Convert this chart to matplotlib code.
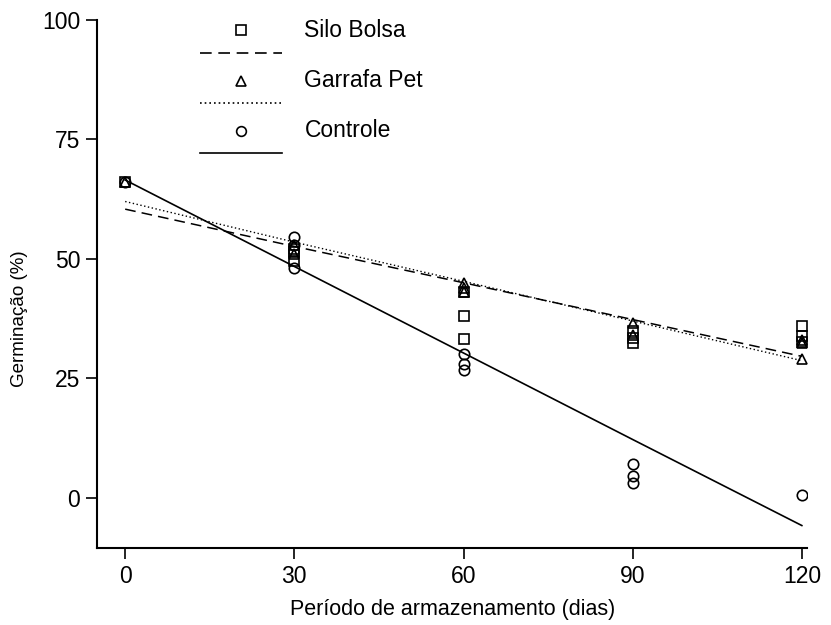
import numpy as np
import matplotlib.pyplot as plt
from matplotlib.lines import Line2D

# Storage period (days)
dias = [0, 30, 60, 90, 120]

silo_x = [0, 30, 30, 30, 60, 60, 60, 90, 90, 90, 120, 120, 120]
silo_y = [66, 52, 51.5, 49.5, 43, 38, 33.3, 32.3, 33.5, 35, 36, 33.8, 32.5]

pet_x = [0, 30, 30, 60, 60, 60, 90, 90, 120, 120, 120]
pet_y = [66, 53, 51, 45, 44, 43, 36.5, 34, 33, 32.3, 29]

ctrl_x = [0, 30, 30, 30, 60, 60, 60, 90, 90, 90, 120]
ctrl_y = [66, 54.5, 53, 48, 30, 28, 26.8, 7, 4.6, 3, 0.6]

# Fitted regression lines, read at each storage period
silo_fit = [60.4, 52.6, 45.0, 37.3, 29.6]
pet_fit = [62.0, 53.5, 45.3, 37.0, 28.7]
ctrl_fit = [66.5, 48.4, 30.3, 12.2, -5.8]

plt.rcParams['font.family'] = ['Liberation Sans', 'DejaVu Sans']

fig = plt.figure(figsize=(8.31, 6.25), dpi=100)
ax = fig.add_axes([0.1167, 0.1232, 0.855, 0.845])

mk = dict(linestyle='none', markerfacecolor='none', markeredgecolor='black',
          markersize=7.5, markeredgewidth=1.2)
ax.plot(silo_x, silo_y, marker='s', **mk)
ax.plot(pet_x, pet_y, marker='^', **mk)
ax.plot(ctrl_x, ctrl_y, marker='o', **mk)

ax.plot(dias, silo_fit, color='black', lw=1.1, dashes=(7, 4))
ax.plot(dias, pet_fit, color='black', lw=1.0, linestyle=(0, (1, 1.8)))
ax.plot(dias, ctrl_fit, color='black', lw=1.2)

ax.set_xlim(-5, 121)
ax.set_ylim(-10.5, 100)
ax.set_xticks(dias)
ax.set_yticks([0, 25, 50, 75, 100])
ax.spines['top'].set_visible(False)
ax.spines['right'].set_visible(False)
for s in ['left', 'bottom']:
    ax.spines[s].set_linewidth(1.5)
ax.tick_params(direction='out', length=8, width=1.2, labelsize=16.5, pad=4)
ax.set_xlabel('Período de armazenamento (dias)', fontsize=15.5, labelpad=8)
ax.set_ylabel('Germinação (%)', fontsize=13.5)
ax.yaxis.set_label_coords(-0.097, 0.435)

# legend drawn by hand: marker above line, label beside marker
leg = [('s', (0, (7, 4)), 'Silo Bolsa'), ('^', (0, (1, 1.8)), 'Garrafa Pet'),
       ('o', '-', 'Controle')]
for i, (m, ls, lab) in enumerate(leg):
    yy = 0.98 - i * 0.095
    ax.add_line(Line2D([0.2025], [yy], marker=m, transform=ax.transAxes,
                       markerfacecolor='none', markeredgecolor='black',
                       markersize=7, markeredgewidth=1.2, linestyle='none'))
    ax.add_line(Line2D([0.145, 0.26], [yy - 0.042, yy - 0.042],
                       transform=ax.transAxes, color='black', lw=1.2,
                       linestyle=ls))
    ax.text(0.292, yy, lab, transform=ax.transAxes, fontsize=16.5,
            va='center', ha='left')

fig.savefig('out.png', dpi=100)
